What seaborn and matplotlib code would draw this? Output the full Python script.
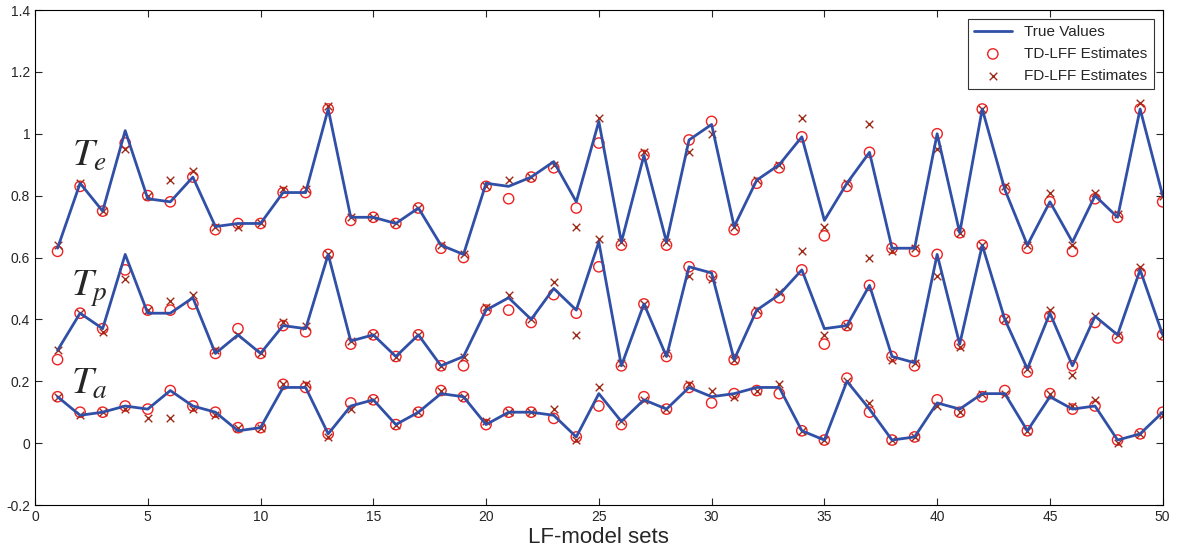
import numpy as np
import pandas as pd
import matplotlib
matplotlib.use("Agg")
import matplotlib.pyplot as plt
import seaborn as sns

sets = list(range(1, 51))

te_true = [0.63, 0.84, 0.75, 1.01, 0.79, 0.78, 0.86, 0.70, 0.71, 0.71,
           0.81, 0.81, 1.08, 0.73, 0.73, 0.71, 0.76, 0.64, 0.61, 0.84,
           0.83, 0.86, 0.91, 0.78, 1.04, 0.65, 0.93, 0.65, 0.98, 1.03,
           0.70, 0.85, 0.90, 0.99, 0.72, 0.84, 0.94, 0.63, 0.63, 1.00,
           0.68, 1.08, 0.82, 0.64, 0.78, 0.65, 0.80, 0.73, 1.08, 0.80]
te_td = [0.62, 0.83, 0.75, 0.97, 0.80, 0.78, 0.86, 0.69, 0.71, 0.71,
         0.81, 0.81, 1.08, 0.72, 0.73, 0.71, 0.76, 0.63, 0.60, 0.83,
         0.79, 0.86, 0.89, 0.76, 0.97, 0.64, 0.93, 0.64, 0.98, 1.04,
         0.69, 0.84, 0.89, 0.99, 0.67, 0.83, 0.94, 0.63, 0.62, 1.00,
         0.68, 1.08, 0.82, 0.63, 0.78, 0.62, 0.79, 0.73, 1.08, 0.78]
te_fd = [0.64, 0.84, 0.75, 0.95, 0.80, 0.85, 0.88, 0.70, 0.70, 0.71,
         0.82, 0.82, 1.09, 0.73, 0.73, 0.71, 0.76, 0.64, 0.61, 0.83,
         0.85, 0.86, 0.90, 0.70, 1.05, 0.65, 0.94, 0.65, 0.94, 1.00,
         0.70, 0.85, 0.90, 1.05, 0.70, 0.84, 1.03, 0.62, 0.63, 0.95,
         0.68, 1.08, 0.83, 0.64, 0.81, 0.64, 0.81, 0.74, 1.10, 0.80]

tp_true = [0.30, 0.42, 0.37, 0.61, 0.42, 0.42, 0.47, 0.29, 0.35, 0.29,
           0.38, 0.37, 0.61, 0.33, 0.35, 0.28, 0.35, 0.25, 0.28, 0.43,
           0.47, 0.40, 0.50, 0.43, 0.65, 0.25, 0.45, 0.28, 0.57, 0.55,
           0.27, 0.43, 0.48, 0.56, 0.37, 0.38, 0.51, 0.28, 0.26, 0.61,
           0.32, 0.64, 0.40, 0.24, 0.42, 0.25, 0.41, 0.35, 0.56, 0.35]
tp_td = [0.27, 0.42, 0.37, 0.56, 0.43, 0.43, 0.45, 0.29, 0.37, 0.29,
         0.38, 0.36, 0.61, 0.32, 0.35, 0.28, 0.35, 0.25, 0.25, 0.43,
         0.43, 0.39, 0.48, 0.42, 0.57, 0.25, 0.45, 0.28, 0.57, 0.54,
         0.27, 0.42, 0.47, 0.56, 0.32, 0.38, 0.51, 0.28, 0.25, 0.61,
         0.32, 0.64, 0.40, 0.23, 0.41, 0.25, 0.39, 0.34, 0.55, 0.35]
tp_fd = [0.30, 0.42, 0.36, 0.53, 0.43, 0.46, 0.48, 0.30, 0.35, 0.29,
         0.39, 0.38, 0.61, 0.33, 0.35, 0.28, 0.35, 0.25, 0.28, 0.44,
         0.48, 0.40, 0.52, 0.35, 0.66, 0.26, 0.45, 0.29, 0.54, 0.53,
         0.27, 0.43, 0.49, 0.62, 0.35, 0.38, 0.60, 0.27, 0.26, 0.54,
         0.31, 0.64, 0.40, 0.24, 0.43, 0.22, 0.41, 0.35, 0.57, 0.35]

ta_true = [0.15, 0.09, 0.10, 0.12, 0.11, 0.17, 0.12, 0.10, 0.04, 0.05,
           0.18, 0.18, 0.03, 0.12, 0.14, 0.06, 0.10, 0.16, 0.15, 0.06,
           0.10, 0.10, 0.09, 0.02, 0.16, 0.07, 0.14, 0.11, 0.18, 0.15,
           0.16, 0.18, 0.18, 0.04, 0.01, 0.20, 0.11, 0.01, 0.02, 0.13,
           0.11, 0.16, 0.16, 0.04, 0.15, 0.11, 0.12, 0.01, 0.03, 0.10]
ta_td = [0.15, 0.10, 0.10, 0.12, 0.11, 0.17, 0.12, 0.10, 0.05, 0.05,
         0.19, 0.18, 0.03, 0.13, 0.14, 0.06, 0.10, 0.17, 0.15, 0.06,
         0.10, 0.10, 0.08, 0.02, 0.12, 0.06, 0.15, 0.11, 0.18, 0.13,
         0.16, 0.17, 0.16, 0.04, 0.01, 0.21, 0.10, 0.01, 0.02, 0.14,
         0.10, 0.15, 0.17, 0.04, 0.16, 0.11, 0.12, 0.01, 0.03, 0.10]
ta_fd = [0.15, 0.09, 0.10, 0.11, 0.08, 0.08, 0.11, 0.09, 0.05, 0.05,
         0.19, 0.19, 0.02, 0.11, 0.14, 0.06, 0.10, 0.17, 0.15, 0.07,
         0.10, 0.10, 0.11, 0.01, 0.18, 0.07, 0.14, 0.11, 0.19, 0.17,
         0.15, 0.17, 0.19, 0.04, 0.01, 0.20, 0.13, 0.01, 0.02, 0.12,
         0.10, 0.16, 0.16, 0.04, 0.16, 0.12, 0.14, 0.00, 0.03, 0.09]

param_labels = [r'$T_e$', r'$T_p$', r'$T_a$']
label_pos = [(2.4, 0.93), (2.4, 0.50), (2.4, 0.19)]

sns.set_style("white")
plt.rcParams['font.family'] = ['Liberation Sans', 'DejaVu Sans']
plt.rcParams['mathtext.fontset'] = 'stix'

fig, ax = plt.subplots(figsize=(11.78, 5.56), dpi=100)
fig.subplots_adjust(left=0.0297, right=0.987, top=0.982, bottom=0.0917)

line_col = '#3050a8'
td_col = '#ee2222'
fd_col = '#a02a18'

groups = [(te_true, te_td, te_fd), (tp_true, tp_td, tp_fd), (ta_true, ta_td, ta_fd)]
for k, (tv, td, fd) in enumerate(groups):
    first = k == 0
    sns.lineplot(x=sets, y=tv, ax=ax, color=line_col, linewidth=2,
                 label='True Values' if first else None, legend=False)
    sns.scatterplot(x=sets, y=td, ax=ax, marker='o', s=55, facecolors='none',
                    edgecolor=td_col, linewidth=1.0,
                    label='TD-LFF Estimates' if first else None, legend=False)
    sns.scatterplot(x=sets, y=fd, ax=ax, marker='x', s=30, color=fd_col,
                    linewidth=1.0,
                    label='FD-LFF Estimates' if first else None, legend=False)

for lab, (xp, yp) in zip(param_labels, label_pos):
    ax.text(xp, yp, lab, fontsize=28, ha='center', va='center')

ax.set_xlim(0, 50)
ax.set_ylim(-0.2, 1.4)
ax.set_xticks(range(0, 51, 5))
yt = np.round(np.arange(-0.2, 1.41, 0.2), 1)
ax.set_yticks(yt)
ax.set_yticklabels([('%g' % v) for v in yt])
ax.tick_params(direction='in', length=5, labelsize=10, top=True, right=True,
               bottom=True, left=True)
for sp in ax.spines.values():
    sp.set_color('black')
    sp.set_linewidth(0.8)
ax.set_xlabel('LF-model sets', fontsize=16, labelpad=2)

leg = ax.legend(loc='upper right', fontsize=11, frameon=True, fancybox=False,
                edgecolor='black', borderaxespad=0.6, handlelength=2.5)
leg.get_frame().set_linewidth(0.8)

fig.savefig('out.png', dpi=100)
